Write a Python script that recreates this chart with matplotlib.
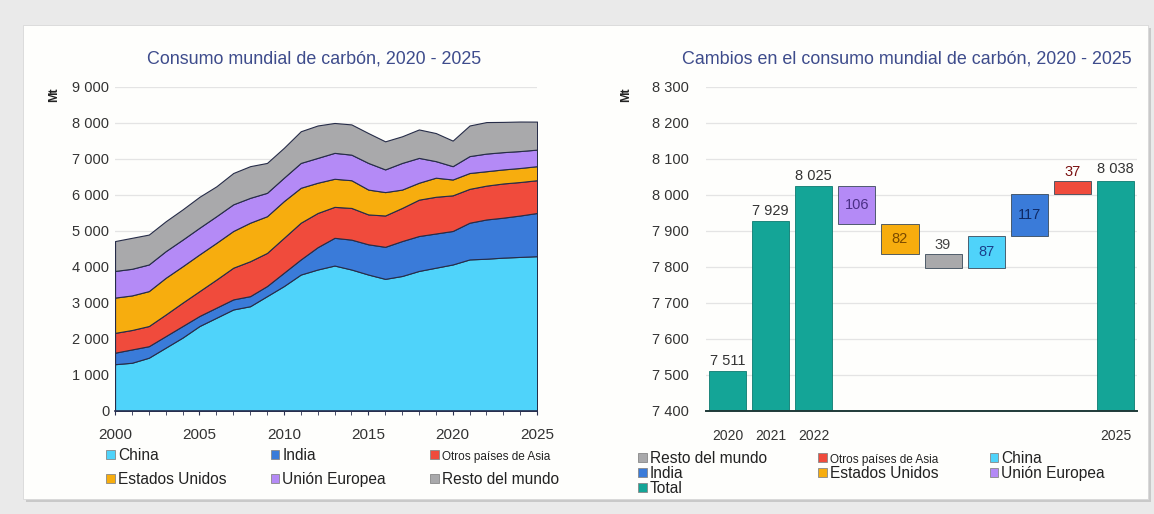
import numpy as np
import matplotlib
matplotlib.use("Agg")
import matplotlib.pyplot as plt
from matplotlib.patches import Rectangle, Patch
from matplotlib.ticker import FuncFormatter, MultipleLocator

plt.rcParams['font.family'] = ['Liberation Sans', 'DejaVu Sans']

# ---- datos: consumo mundial por región (Mt), 2000-2025 ----
years = np.arange(2000, 2026)
china = [1300, 1340, 1480, 1760, 2040, 2360, 2590, 2820, 2910, 3190, 3470, 3790, 3930,
         4040, 3930, 3790, 3670, 3750, 3890, 3980, 4070, 4210, 4230, 4260, 4280, 4300]
india = [320, 370, 320, 320, 320, 280, 280, 280, 280, 280, 370, 420, 620,
         770, 830, 840, 890, 970, 970, 950, 930, 1020, 1090, 1110, 1150, 1200]
otros_asia = [550, 540, 560, 600, 650, 690, 780, 880, 970, 920, 970, 1020, 950,
              860, 880, 830, 870, 920, 1010, 1020, 990, 940, 940, 950, 930, 910]
eeuu = [980, 960, 970, 1020, 1010, 1020, 1020, 1020, 1070, 1020, 1020, 970, 840,
        780, 770, 690, 650, 510, 470, 530, 440, 440, 400, 390, 390, 390]
ue = [740, 740, 740, 740, 740, 740, 740, 740, 690, 650, 650, 690, 690,
      720, 710, 740, 630, 740, 690, 460, 370, 470, 490, 480, 470, 460]
resto = [830, 860, 830, 830, 840, 860, 830, 870, 880, 830, 830, 880, 900,
         830, 840, 830, 780, 740, 790, 780, 710, 850, 875, 840, 820, 778]

area_names = ["China", "India", "Otros países de Asia", "Estados Unidos", "Unión Europea", "Resto del mundo"]
area_colors = ["#4fd3fa", "#3a7bd9", "#f04b3c", "#f7ad0e", "#b48af6", "#a9a9ab"]

# ---- datos: cambios 2020 - 2025 (Mt) ----
totals_years = ["2020", "2021", "2022"]
totals = [7511, 7929, 8025]
total_2025 = 8038
step_names = ["Unión Europea", "Estados Unidos", "Resto del mundo", "China", "India", "Otros países de Asia"]
step_deltas = [-106, -82, -39, 87, 117, 37]
step_colors = ["#b48af6", "#f7ad0e", "#a9a9ab", "#4fd3fa", "#3a7bd9", "#f04b3c"]
step_text = ["#4b2f86", "#7a4a00", "#444444", "#1a3f8a", "#0f2a66", "#7a1010"]
total_color = "#14a597"

fig = plt.figure(figsize=(11.54, 5.14), dpi=100)
fig.patch.set_facecolor("#eaeaea")

# marco blanco con sombra
fig.patches.append(Rectangle((0.0225, 0.024), 0.975, 0.922, transform=fig.transFigure,
                             facecolor="#c9c9c9", edgecolor="none", zorder=-5))
fig.patches.append(Rectangle((0.0195, 0.030), 0.975, 0.922, transform=fig.transFigure,
                             facecolor="#fefefc", edgecolor="#d8d8d8", lw=0.6, zorder=-4))

thousands = FuncFormatter(lambda v, p: f"{int(v):,}".replace(",", " "))
title_color = "#3e4c8c"
tick_color = "#333333"
tick_fs = 10.5
leg_fs = 11.2

# ---------------- gráfico de áreas ----------------
ax1 = fig.add_axes([0.0997, 0.2004, 0.3657, 0.6304])
ax1.set_facecolor("none")
ax1.stackplot(years, china, india, otros_asia, eeuu, ue, resto,
              colors=area_colors, edgecolor="#262c48", linewidth=0.8, zorder=2)
ax1.set_xlim(2000, 2025)
ax1.set_ylim(0, 9000)
ax1.yaxis.set_major_locator(MultipleLocator(1000))
ax1.yaxis.set_major_formatter(thousands)
ax1.xaxis.set_major_locator(MultipleLocator(5))
ax1.xaxis.set_minor_locator(MultipleLocator(1))
ax1.grid(axis="y", color="#e4e4e4", lw=0.9, zorder=0)
for s in ["top", "right", "left"]:
    ax1.spines[s].set_visible(False)
ax1.spines["bottom"].set_color("#2a3050")
ax1.spines["bottom"].set_linewidth(1.2)
ax1.tick_params(axis="y", length=0, labelsize=tick_fs, colors=tick_color, pad=4)
ax1.tick_params(axis="x", which="both", direction="out", length=3, color="#2a3050",
                labelsize=tick_fs + 0.5, labelcolor=tick_color, pad=9)
fig.text(0.272, 0.885, "Consumo mundial de carbón, 2020 - 2025", ha="center", va="center",
         fontsize=12.9, color=title_color)
fig.text(0.047, 0.815, "Mt", rotation=90, ha="center", va="center", fontsize=9,
         fontweight="bold", color="#222222")

handles = [Patch(facecolor=c, edgecolor="#888888", lw=0.6) for c in area_colors]
order = [0, 3, 1, 4, 2, 5]
leg1 = fig.legend([handles[i] for i in order], [area_names[i] for i in order],
                  loc="upper left", bbox_to_anchor=(0.092, 0.128), ncol=3, frameon=False,
                  fontsize=leg_fs, handlelength=0.55, handleheight=0.55, handletextpad=0.2,
                  columnspacing=2.85, labelspacing=0.55, borderaxespad=0, borderpad=0)
for t in leg1.get_texts():
    t.set_color("#222222")
    if t.get_text() == "Otros países de Asia":
        t.set_fontsize(8.5)

# ---------------- gráfico de cascada ----------------
ax2 = fig.add_axes([0.6118, 0.2004, 0.3735, 0.6304])
ax2.set_facecolor("none")
n = len(totals) + len(step_deltas) + 1
pos = np.arange(n)
w = 0.86
edge = "#3a4a5a"

ax2.bar(pos[:len(totals)], totals, width=w, color=total_color, edgecolor="#0c7a70", lw=0.6, zorder=2)
for x, v in zip(pos[:len(totals)], totals):
    ax2.text(x, v + 8, f"{v:,}".replace(",", " "), ha="center", va="bottom", fontsize=tick_fs,
             color="#333333")

level = totals[-1]
for k, (d, c, tc) in enumerate(zip(step_deltas, step_colors, step_text)):
    x = pos[len(totals) + k]
    bottom = min(level, level + d)
    ax2.bar(x, abs(d), bottom=bottom, width=w, color=c, edgecolor=edge, lw=0.6, zorder=2)
    if abs(d) < 50:
        ax2.text(x, bottom + abs(d) + 4, str(abs(d)), ha="center", va="bottom", fontsize=tick_fs, color=tc)
    else:
        ax2.text(x, bottom + abs(d) / 2, str(abs(d)), ha="center", va="center", fontsize=tick_fs, color=tc)
    level += d

ax2.bar(pos[-1], total_2025, width=w, color=total_color, edgecolor="#0c7a70", lw=0.6, zorder=2)
ax2.text(pos[-1], total_2025 + 14, f"{total_2025:,}".replace(",", " "), ha="center", va="bottom",
         fontsize=tick_fs, color="#333333")

ax2.set_xlim(-0.5, n - 0.5)
ax2.set_ylim(7400, 8300)
ax2.yaxis.set_major_locator(MultipleLocator(100))
ax2.yaxis.set_major_formatter(thousands)
ax2.set_xticks(pos)
ax2.set_xticklabels(totals_years + [""] * len(step_deltas) + ["2025"])
ax2.grid(axis="y", color="#e4e4e4", lw=0.9, zorder=0)
for s in ["top", "right", "left"]:
    ax2.spines[s].set_visible(False)
ax2.spines["bottom"].set_color("#1f3a38")
ax2.spines["bottom"].set_linewidth(1.4)
ax2.spines["bottom"].set_zorder(3)
ax2.tick_params(axis="y", length=0, labelsize=tick_fs, colors=tick_color, pad=12)
ax2.tick_params(axis="x", length=0, labelsize=tick_fs - 0.5, labelcolor=tick_color, pad=13)
fig.text(0.786, 0.885, "Cambios en el consumo mundial de carbón, 2020 - 2025", ha="center", va="center",
         fontsize=12.9, color=title_color)
fig.text(0.543, 0.815, "Mt", rotation=90, ha="center", va="center", fontsize=9,
         fontweight="bold", color="#222222")

wf_names = ["Resto del mundo", "Otros países de Asia", "China", "India", "Estados Unidos",
            "Unión Europea", "Total"]
wf_cols = ["#a9a9ab", "#f04b3c", "#4fd3fa", "#3a7bd9", "#f7ad0e", "#b48af6", total_color]
wf_handles = [Patch(facecolor=c, edgecolor="#888888", lw=0.6) for c in wf_cols]
# orden por columnas para que las filas queden como en la leyenda
col_order = [0, 3, 6, 1, 4, 2, 5]
leg2 = fig.legend([wf_handles[i] for i in col_order], [wf_names[i] for i in col_order],
                  loc="upper left", bbox_to_anchor=(0.553, 0.122), ncol=3, frameon=False,
                  fontsize=leg_fs, handlelength=0.55, handleheight=0.55, handletextpad=0.2,
                  columnspacing=3.3, labelspacing=0.0, borderaxespad=0, borderpad=0)
for t in leg2.get_texts():
    t.set_color("#222222")
    if t.get_text() == "Otros países de Asia":
        t.set_fontsize(8.5)

fig.savefig("out.png", dpi=100, facecolor=fig.get_facecolor())
